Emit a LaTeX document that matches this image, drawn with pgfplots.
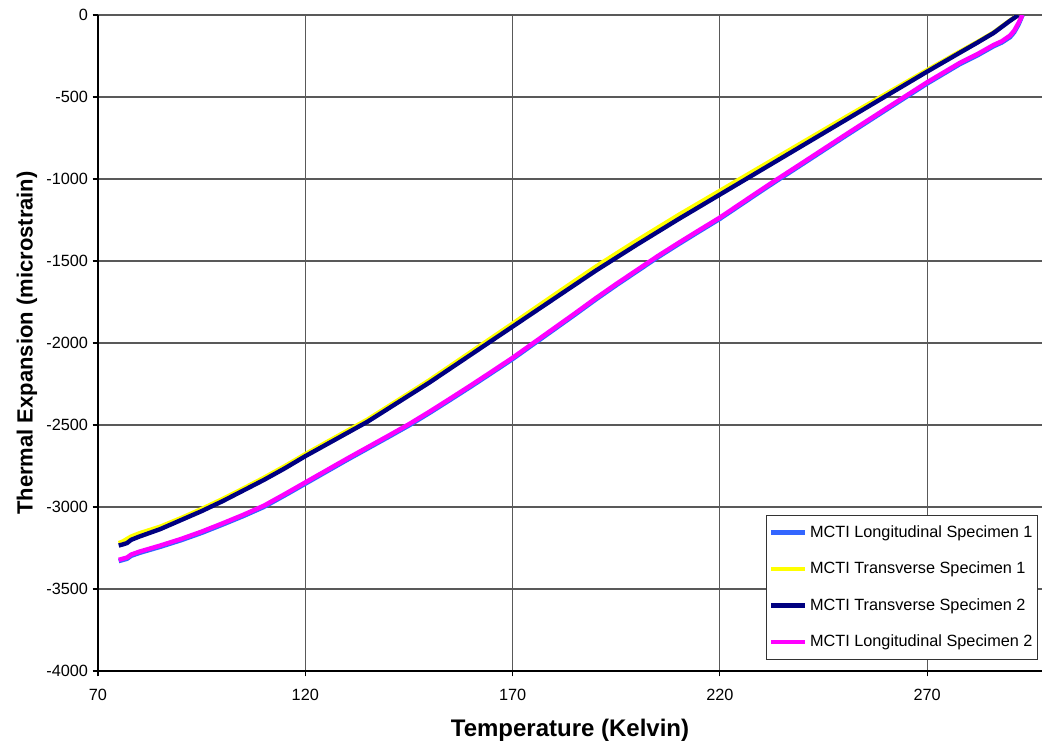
\documentclass[border=0pt]{standalone}
\usepackage{pgfplots}
\pgfplotsset{compat=1.18}
\usepackage{fontspec}
\setmainfont{Liberation Sans}
\definecolor{cBlue}{RGB}{51,102,255}
\definecolor{cYel}{RGB}{255,255,0}
\definecolor{cNavy}{RGB}{0,0,128}
\definecolor{cMag}{RGB}{255,0,255}
\begin{document}
\begin{tikzpicture}
\useasboundingbox (-73.5pt,-54.75pt) rectangle (709.5pt,503.25pt);
\begin{axis}[
  at={(0,0)}, anchor=south west,
  scale only axis, width=708pt, height=492pt,
  xmin=70, xmax=297.7, ymin=-4000, ymax=0,
  axis x line*=bottom, axis y line*=left,
  axis line style={black, line width=0.9pt, -},
  xtick={70,120,170,220,270},
  xticklabels={70,120,170,220,270},
  ytick={-4000,-3500,-3000,-2500,-2000,-1500,-1000,-500,0},
  yticklabels={-4000,-3500,-3000,-2500,-2000,-1500,-1000,-500,0},
  tick align=outside, major tick length=4pt,
  tick style={black, line width=0.8pt},
  grid=major, major grid style={black!65, line width=0.8pt},
  tick label style={font=\fontsize{12.2}{14}\selectfont},
  xticklabel style={yshift=-6pt},
  xlabel={Temperature (Kelvin)}, ylabel={Thermal Expansion (microstrain)},
  xlabel style={font=\fontsize{18}{20}\selectfont\bfseries, yshift=-7pt},
  ylabel style={font=\fontsize{16.5}{18}\selectfont\bfseries},
  legend style={at={(0.996,0.017)}, anchor=south east, draw=black!80, line width=0.6pt,
    font=\fontsize{12.2}{14}\selectfont, row sep=13pt, inner xsep=2pt, inner ysep=6pt},
  legend cell align=left,
  legend image code/.code={\draw[#1, line width=3.2pt] (0cm,0cm) -- (0.9cm,0cm);},
  every axis plot/.append style={line width=3.3pt, line join=round},
]
\addplot[cBlue] coordinates {
(75,-3330) (76,-3323) (77,-3316) (78,-3298) (80,-3280) (85,-3243) (90,-3203) (95,-3158) (100,-3108)
(105,-3056) (110,-3000) (115,-2930) (120,-2858) (125,-2786) (130,-2714) (135,-2644) (140,-2574)
(145,-2503) (150,-2426) (155,-2346) (160,-2265) (165,-2182) (170,-2098) (175,-2008) (180,-1918)
(185,-1828) (190,-1736) (195,-1648) (200,-1563) (205,-1478) (210,-1398) (215,-1320) (220,-1243)
(225,-1158) (230,-1073) (233,-1023) (240,-908) (250,-743) (260,-580) (270,-418) (278,-298)
(282,-248) (286,-191) (288,-168) (290,-135) (291,-105) (292,-60) (292.6,-25) (293,0)
};
\addlegendentry{MCTI Longitudinal Specimen 1}
\addplot[cYel] coordinates {
(75,-3220) (76,-3210) (77,-3195) (78,-3180) (80,-3160) (85,-3120) (90,-3068) (95,-3012) (100,-2952)
(105,-2888) (110,-2822) (115,-2752) (120,-2678) (125,-2607) (130,-2537) (135,-2467) (140,-2387)
(145,-2307) (150,-2226) (155,-2140) (160,-2054) (165,-1968) (170,-1882) (175,-1795) (180,-1708)
(185,-1622) (190,-1536) (195,-1455) (200,-1375) (210,-1220) (220,-1072) (230,-924) (240,-776)
(250,-628) (260,-482) (270,-336) (278,-222) (282,-166) (286,-107) (290,-33) (292,0)
};
\addlegendentry{MCTI Transverse Specimen 1}
\addplot[cNavy] coordinates {
(75,-3235) (76,-3228) (77,-3220) (78,-3200) (80,-3180) (85,-3135) (90,-3080) (95,-3025) (100,-2965)
(105,-2900) (110,-2835) (115,-2765) (120,-2690) (125,-2620) (130,-2550) (135,-2480) (140,-2400)
(145,-2320) (150,-2240) (155,-2155) (160,-2070) (165,-1985) (170,-1900) (175,-1815) (180,-1730)
(185,-1645) (190,-1560) (195,-1480) (200,-1400) (210,-1245) (220,-1095) (230,-945) (240,-795)
(250,-645) (260,-495) (270,-345) (278,-228) (282,-170) (286,-110) (290,-35) (292,0)
};
\addlegendentry{MCTI Transverse Specimen 2}
\addplot[cMag] coordinates {
(75,-3322) (76,-3315) (77,-3308) (78,-3290) (80,-3272) (85,-3235) (90,-3195) (95,-3150) (100,-3100)
(105,-3048) (110,-2992) (115,-2922) (120,-2850) (125,-2778) (130,-2706) (135,-2636) (140,-2566)
(145,-2495) (150,-2418) (155,-2338) (160,-2257) (165,-2174) (170,-2090) (175,-2000) (180,-1910)
(185,-1820) (190,-1728) (195,-1640) (200,-1555) (205,-1470) (210,-1390) (215,-1312) (220,-1235)
(225,-1150) (230,-1065) (233,-1015) (240,-900) (250,-735) (260,-572) (270,-410) (278,-290)
(282,-240) (286,-183) (288,-160) (290,-125) (291,-95) (292,-50) (292.6,-20) (293,0)
};
\addlegendentry{MCTI Longitudinal Specimen 2}
\end{axis}
\end{tikzpicture}
\end{document}
